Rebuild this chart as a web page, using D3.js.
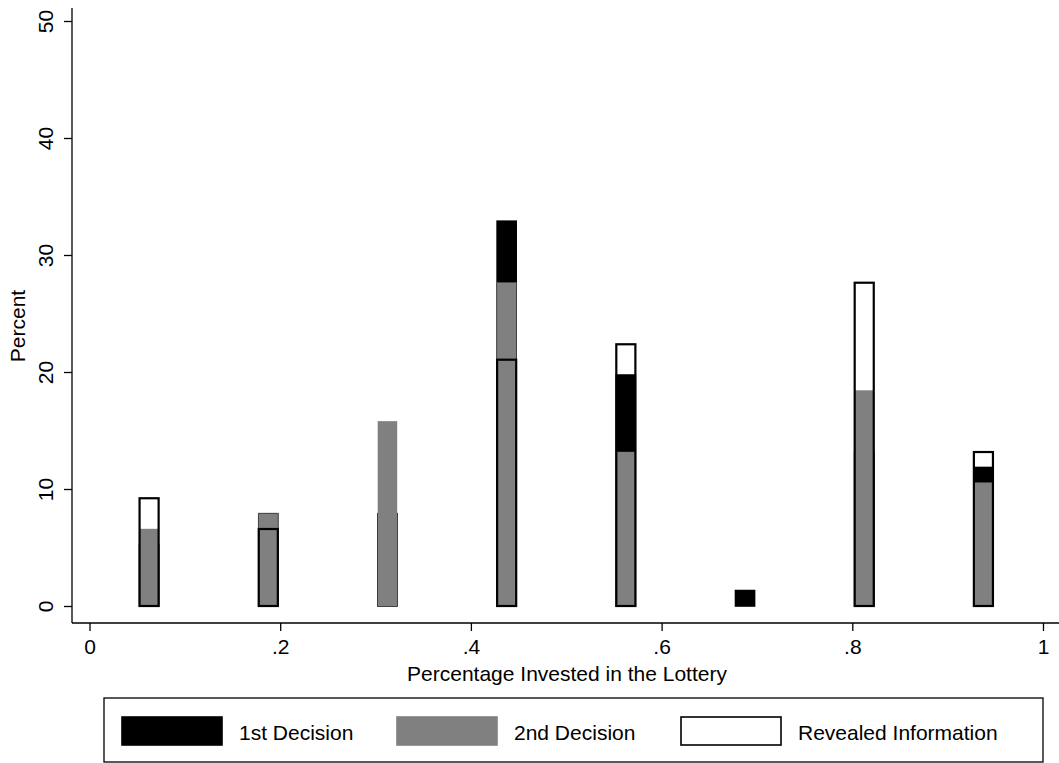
<!DOCTYPE html>
<html>
<head>
<meta charset="utf-8">
<script src="https://cdn.jsdelivr.net/npm/d3@7"></script>
<style>
  html, body { margin: 0; padding: 0; background: #fff; }
  svg { display: block; }
  text { font-family: "Liberation Sans", Arial, Helvetica, sans-serif; fill: #000; }
</style>
</head>
<body>
<svg id="chart" width="1059" height="763"></svg>
<script>
// Bin midpoints of the share invested in the lottery
const bins = [0.0625, 0.1875, 0.3125, 0.4375, 0.5625, 0.6875, 0.8125, 0.9375];
// Percent of subjects in each bin
const firstDecision  = [5.26, 7.89, 7.89, 32.89, 19.74, 1.32, 13.16, 11.84];
const secondDecision = [6.58, 7.89, 15.79, 27.63, 13.16, 0, 18.42, 10.53];
const revealedInfo   = [9.21, 6.58, 0, 21.05, 22.37, 0, 27.63, 13.16];

const xTicks = [0, 0.2, 0.4, 0.6, 0.8, 1];
const xTickLabels = ["0", ".2", ".4", ".6", ".8", "1"];
const yTicks = [0, 10, 20, 30, 40, 50];

const legendLabels = ["1st Decision", "2nd Decision", "Revealed Information"];

const svg = d3.select("#chart");
const barWidth = 0.02;
const fontSize = 21;

const x = d3.scaleLinear().domain([0, 1]).range([89.5, 1043]);
const y = d3.scaleLinear().domain([0, 50]).range([606, 21]);

const axisLeftX = 72, axisBottomY = 623;

// Bars: 1st decision (black), 2nd decision (gray), revealed information (outline only)
function drawBars(values, cls, fill, stroke, sw) {
  svg.append("g").attr("class", cls)
    .selectAll("rect")
    .data(bins.map((b, i) => ({ b, v: values[i] })).filter(d => d.v > 0))
    .join("rect")
    .attr("x", d => x(d.b - barWidth / 2))
    .attr("width", d => x(d.b + barWidth / 2) - x(d.b - barWidth / 2))
    .attr("y", d => y(d.v))
    .attr("height", d => y(0) - y(d.v))
    .attr("fill", fill)
    .attr("stroke", stroke)
    .attr("stroke-width", sw);
}
drawBars(firstDecision, "first", "#000", "#000", 1.6);
drawBars(secondDecision, "second", "#808080", "#808080", 0.4);
drawBars(revealedInfo, "revealed", "none", "#000", 2.2);

// Y axis
const yAxis = svg.append("g").attr("transform", `translate(${axisLeftX},0)`)
  .call(d3.axisLeft(y).tickValues(yTicks).tickSize(8).tickPadding(0).tickFormat(d3.format("d")));
yAxis.select(".domain").remove();
yAxis.selectAll(".tick line").attr("stroke", "#000").attr("stroke-width", 1.3);
yAxis.selectAll(".tick text")
  .attr("font-size", fontSize)
  .attr("text-anchor", "middle")
  .attr("dy", null)
  .attr("x", 0)
  .attr("transform", "translate(-27,0) rotate(-90)")
  .attr("y", 0)
  .attr("dominant-baseline", "central");
svg.append("line")
  .attr("x1", axisLeftX).attr("x2", axisLeftX)
  .attr("y1", 8).attr("y2", axisBottomY)
  .attr("stroke", "#000").attr("stroke-width", 1.3);

// X axis
const xAxis = svg.append("g").attr("transform", `translate(0,${axisBottomY})`)
  .call(d3.axisBottom(x).tickValues(xTicks).tickSize(8).tickPadding(7)
    .tickFormat((d, i) => xTickLabels[i]));
xAxis.select(".domain").remove();
xAxis.selectAll(".tick line").attr("stroke", "#000").attr("stroke-width", 1.3);
xAxis.selectAll(".tick text").attr("font-size", fontSize).attr("dy", "0.75em");
svg.append("line")
  .attr("x1", axisLeftX).attr("x2", 1059)
  .attr("y1", axisBottomY).attr("y2", axisBottomY)
  .attr("stroke", "#000").attr("stroke-width", 1.3);

// Axis titles
svg.append("text")
  .attr("x", 567).attr("y", 681)
  .attr("text-anchor", "middle").attr("font-size", fontSize)
  .text("Percentage Invested in the Lottery");
svg.append("text")
  .attr("transform", "translate(25,326) rotate(-90)")
  .attr("text-anchor", "middle").attr("font-size", fontSize)
  .text("Percent");

// Legend
svg.append("rect")
  .attr("x", 104).attr("y", 698).attr("width", 939).attr("height", 64)
  .attr("fill", "#fff").attr("stroke", "#000").attr("stroke-width", 1.3);
const legendItems = [
  { label: legendLabels[0], x: 122, fill: "#000", stroke: "#000" },
  { label: legendLabels[1], x: 397, fill: "#808080", stroke: "#808080" },
  { label: legendLabels[2], x: 681, fill: "#fff", stroke: "#000" }
];
const lg = svg.append("g").selectAll("g").data(legendItems).join("g");
lg.append("rect")
  .attr("x", d => d.x).attr("y", 717).attr("width", 100).attr("height", 28)
  .attr("fill", d => d.fill).attr("stroke", d => d.stroke).attr("stroke-width", 1.6);
lg.append("text")
  .attr("x", d => d.x + 117).attr("y", 732)
  .attr("dominant-baseline", "central")
  .attr("font-size", fontSize)
  .text(d => d.label);
</script>
</body>
</html>
